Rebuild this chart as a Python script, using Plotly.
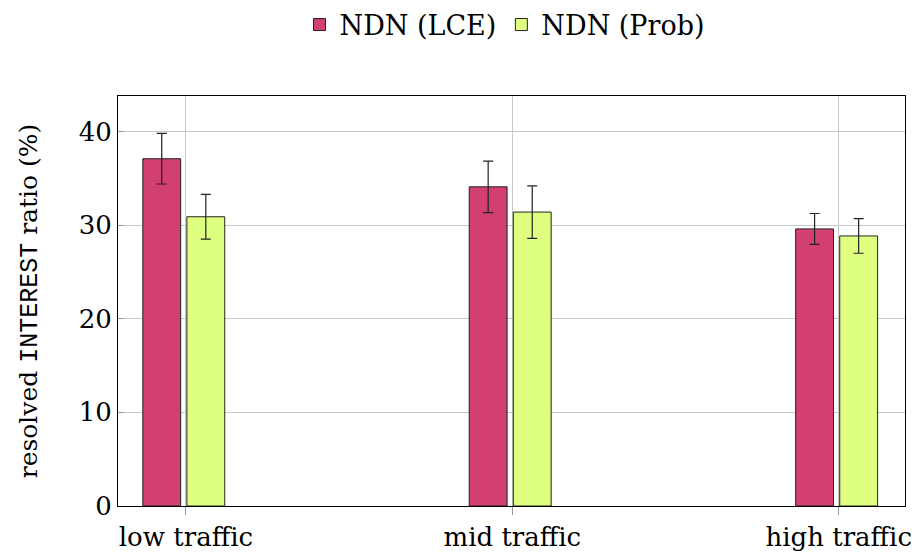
import plotly.graph_objects as go

categories = ["low traffic", "mid traffic", "high traffic"]
lce_values = [37.1, 34.1, 29.6]
lce_err = [2.7, 2.75, 1.65]
prob_values = [30.9, 31.4, 28.85]
prob_err = [2.4, 2.8, 1.85]
y_ticks = [0, 10, 20, 30, 40]

xpos = list(range(len(categories)))
SERIF = "DejaVu Serif, Liberation Serif, serif"

fig = go.Figure()
fig.add_trace(go.Bar(
    x=xpos, y=lce_values, name="NDN (LCE)",
    width=0.116, offset=-0.132,
    marker=dict(color="#d1406e", line=dict(color="#222222", width=1)),
    error_y=dict(type="data", array=lce_err, color="#222222", thickness=1.2, width=5),
))
fig.add_trace(go.Bar(
    x=xpos, y=prob_values, name="NDN (Prob)",
    width=0.116, offset=0.003,
    marker=dict(color="#dfff80", line=dict(color="#222222", width=1)),
    error_y=dict(type="data", array=prob_err, color="#222222", thickness=1.2, width=5),
))

fig.update_layout(
    width=912, height=557,
    margin=dict(l=118, r=7, t=96, b=51, autoexpand=False),
    barmode="overlay",
    plot_bgcolor="white", paper_bgcolor="white",
    font=dict(family=SERIF, size=26, color="black"),
    showlegend=True,
    legend=dict(orientation="h", x=505 / 912, xanchor="center", xref="container",
                y=1 - 25 / 557, yanchor="middle", yref="container",
                font=dict(family=SERIF, size=27, color="black"), itemwidth=30,
                traceorder="normal"),
    xaxis=dict(range=[-0.208, 2.203], tickmode="array", tickvals=xpos, ticktext=categories,
               showgrid=True, gridcolor="#c8c8c8", gridwidth=1,
               showline=True, linecolor="black", linewidth=1, mirror=True,
               ticks="outside", ticklen=8, tickcolor="#999999",
               zeroline=False, tickfont=dict(family=SERIF, size=26, color="black")),
    yaxis=dict(range=[0, 43.8], tickmode="array", tickvals=y_ticks,
               showgrid=True, gridcolor="#c8c8c8", gridwidth=1,
               showline=True, linecolor="black", linewidth=1, mirror=True,
               ticks="inside", ticklen=6, tickcolor="#999999",
               zeroline=False, tickfont=dict(family=SERIF, size=26, color="black"),
               title=dict(text='resolved <span style="font-family:Liberation Mono">INTEREST</span> ratio (%)',
                          font=dict(family=SERIF, size=25, color="black"), standoff=33)),
)

fig.write_html("out.html", config={"displayModeBar": False},
               post_script="document.body.style.margin='0';")
